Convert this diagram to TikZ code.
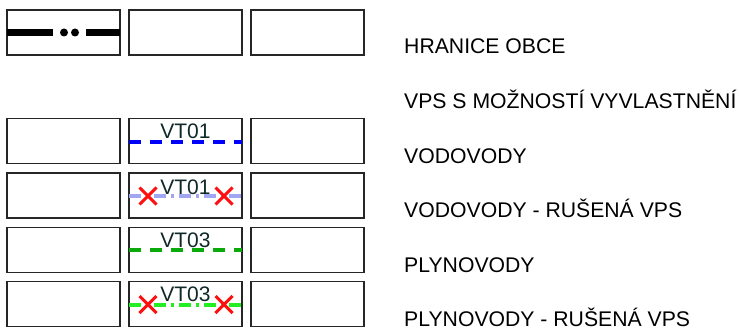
\documentclass[tikz,border=0pt]{standalone}
\usepackage{fontspec}
\setmainfont{Liberation Sans}
\definecolor{vtext}{HTML}{102828}
\definecolor{vblue}{HTML}{0000FF}
\definecolor{vlblue}{HTML}{A0A6F2}
\definecolor{pgreen}{HTML}{0AAA0A}
\definecolor{plgreen}{HTML}{22EE22}
\definecolor{xred}{HTML}{FF1010}

\tikzset{
    box/.style={draw=black!85, line width=1.2pt},
    legtext/.style={anchor=base west, inner sep=0pt, font=\fontsize{21.2}{24}\selectfont},
    vtlabel/.style={anchor=base, inner sep=0pt, text=vtext, font=\fontsize{21}{24}\selectfont},
    pipe/.style={line width=4pt, dash pattern=on 12pt off 9pt},
    oldpipe/.style={line width=4pt, dash pattern=on 12pt off 5pt on 3pt off 5pt},
    cross/.style={xred, line width=3pt},
}

\begin{document}
\begin{tikzpicture}[x=1pt, y=-1pt]
        \useasboundingbox (0, 0) rectangle (739, 329);

        % legend boxes
        \foreach \y in {10, 118.7, 173, 227.3, 281.7}
            \foreach \x in {7, 129, 251}
                \draw[box] (\x, \y) rectangle ++(113, 45);

        % hranice obce
        \draw[line width=7pt] (7, 32.5) -- (53, 32.5);
        \fill (64, 32.5) circle (4);
        \fill (75, 32.5) circle (4);
        \draw[line width=7pt] (86, 32.5) -- (120, 32.5);

        % vodovody
        \draw[pipe, vblue] (129, 141.5) -- (242, 141.5);
        \node[vtlabel] (vt1) at (185.5, 138.5) {VT01};

        \draw[oldpipe, vlblue] (129, 196) -- (242, 196);
        \node[vtlabel] (vt1old) at (185.5, 194) {VT01};
        \draw[cross] (148, 196) +(-8.5, -8.5) -- +(8.5, 8.5) +(-8.5, 8.5) -- +(8.5, -8.5);
        \draw[cross] (224, 196) +(-8.5, -8.5) -- +(8.5, 8.5) +(-8.5, 8.5) -- +(8.5, -8.5);

        % plynovody
        \draw[pipe, pgreen] (129, 250) -- (242, 250);
        \node[vtlabel] (vt3) at (185.5, 247) {VT03};

        \draw[oldpipe, plgreen] (129, 304.5) -- (242, 304.5);
        \node[vtlabel] (vt3old) at (185.5, 301) {VT03};
        \draw[cross] (148, 304.5) +(-8.5, -8.5) -- +(8.5, 8.5) +(-8.5, 8.5) -- +(8.5, -8.5);
        \draw[cross] (224, 304.5) +(-8.5, -8.5) -- +(8.5, 8.5) +(-8.5, 8.5) -- +(8.5, -8.5);

        % popisky
        \node[legtext] (hranice) at (404, 54) {HRANICE OBCE};
        \node[legtext] (vps) at (404, 108.5) {VPS S MOŽNOSTÍ VYVLASTNĚNÍ};
        \node[legtext] (vodovody) at (404, 163) {VODOVODY};
        \node[legtext] (vodovodyold) at (404, 217.5) {VODOVODY - RUŠENÁ VPS};
        \node[legtext] (plynovody) at (404, 272) {PLYNOVODY};
        \node[legtext] (plynovodyold) at (404, 326) {PLYNOVODY - RUŠENÁ VPS};
    \end{tikzpicture}
\end{document}
